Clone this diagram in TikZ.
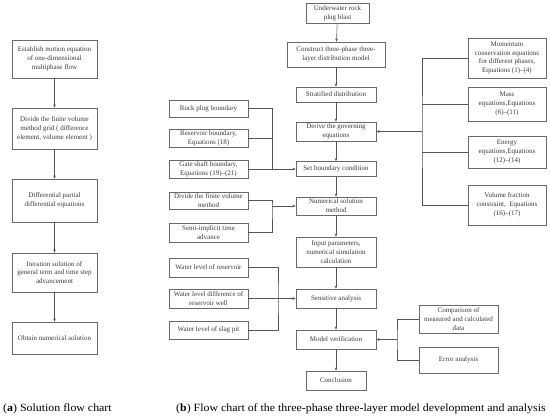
\documentclass[tikz,border=0pt]{standalone}
\usepackage{fontspec}
\setmainfont{Liberation Serif}
\newfontfamily\capfont[FakeStretch=1.08]{Liberation Serif}
\usetikzlibrary{arrows.meta}
\definecolor{boxline}{HTML}{6A6A6A}
\definecolor{conn}{HTML}{555555}
\definecolor{txt}{HTML}{3A3A3A}
\hyphenpenalty=10000
\exhyphenpenalty=10000
\tikzset{
  box/.style={draw=boxline, line width=0.6pt, align=center, inner sep=1pt,
    font=\fontsize{7}{8.8}\selectfont, text=txt},
  conline/.style={draw=conn, line width=0.5pt},
  arr/.style={conline, -{Stealth[length=3.2pt,width=2.6pt]}},
  captxt/.style={anchor=base west, inner sep=0pt, font=\capfont\fontsize{11}{13}\selectfont, text=black}
}
\begin{document}
\begin{tikzpicture}[x=1pt,y=-1pt]
\useasboundingbox (0,0) rectangle (550,419);
% left column
\node[box, minimum width=85, minimum height=38] (l1) at (54.5,59) {Establish motion equation\\of one-dimensional\\multiphase flow};
\node[box, minimum width=85, minimum height=41] (l2) at (54.5,128.5) {Divide the finite volume\\method grid ( difference\\element, volume element )};
\node[box, minimum width=85, minimum height=43] (l3) at (54.5,200.5) {Differential partial\\differential equations};
\node[box, minimum width=85, minimum height=39] (l4) at (54.5,272.5) {Iteration solution of\\general term and time step\\advancement};
\node[box, minimum width=85, minimum height=32] (l5) at (54.5,338) {Obtain numerical solution};
\draw[arr] (l1) -- (l2);
\draw[arr] (l2) -- (l3);
\draw[arr] (l3) -- (l4);
\draw[arr] (l4) -- (l5);
% main column
\node[box, minimum width=63, minimum height=20] (m1) at (337.5,13) {Underwater rock\\plug blast};
\node[box, minimum width=98, minimum height=25] (m2) at (336,54.5) {Construct three-phase three-\\layer distribution model};
\node[box, minimum width=80, minimum height=15] (m3) at (336,94.5) {Stratified distribution};
\node[box, minimum width=80, minimum height=19] (m4) at (336,131.5) {Derive the governing\\equations};
\node[box, minimum width=80, minimum height=15] (m5) at (336,169) {Set boundary condition};
\node[box, minimum width=80, minimum height=18] (m6) at (336,206) {Numerical solution\\method};
\node[box, minimum width=80, minimum height=30] (m7) at (336,252) {Input parameters,\\numerical simulation\\calculation};
\node[box, minimum width=80, minimum height=19] (m8) at (336,298.5) {Sensitive analysis};
\node[box, minimum width=80, minimum height=19] (m9) at (336,339.5) {Model verification};
\node[box, minimum width=60, minimum height=19] (m10) at (336,380.5) {Conclusion};
\draw[arr] (m1) -- (m2);
\draw[arr] (m2) -- (m3);
\draw[arr] (m3) -- (m4);
\draw[arr] (m4) -- (m5);
\draw[arr] (m5) -- (m6);
\draw[arr] (m6) -- (m7);
\draw[arr] (m7) -- (m8);
\draw[arr] (m8) -- (m9);
\draw[arr] (m9) -- (m10);
% middle-left boxes
\node[box, minimum width=79, minimum height=17] (b1) at (208.5,108.5) {Rock plug boundary};
\node[box, minimum width=79, minimum height=18] (b2) at (208.5,138) {Reservoir boundary,\\Equations (18)};
\node[box, minimum width=79, minimum height=18] (b3) at (208.5,169) {Gate shaft boundary,\\Equations (19)–(21)};
\node[box, minimum width=79, minimum height=17] (b4) at (208.5,200.5) {Divide the finite volume\\method};
\node[box, minimum width=79, minimum height=19] (b5) at (208.5,232.5) {Semi-implicit time\\advance};
\node[box, minimum width=79, minimum height=19] (b6) at (208.5,267.5) {Water level of reservoir};
\node[box, minimum width=79, minimum height=19] (b7) at (208.5,298.5) {Water level difference of\\reservoir well};
\node[box, minimum width=79, minimum height=18] (b8) at (208.5,330) {Water level of slag pit};
\coordinate (k1) at (272,169);
\coordinate (k2) at (272,206);
\coordinate (k3) at (278,298.5);
\draw[conline] (b1.east) -| (k1);
\draw[conline] (b2.east) -- (b2.east -| k1);
\draw[arr] (b3.east) -- (m5.west);
\draw[conline] (b4.east) -| (k2) |- (b5.east);
\draw[arr] (k2) -- (m6.west);
\draw[conline] (b6.east) -| (k3) |- (b8.east);
\draw[arr] (b7.east) -- (m8.west);
% right boxes
\node[box, minimum width=78, minimum height=40] (r1) at (507,58) {Momentum\\conservation equations\\for different phases,\\Equations (1)–(4)};
\node[box, minimum width=78, minimum height=34] (r2) at (507,104) {Mass\\equations,Equations\\(6)–(11)};
\node[box, minimum width=78, minimum height=32] (r3) at (507,152) {Energy\\equations,Equations\\(12)–(14)};
\node[box, minimum width=78, minimum height=40] (r4) at (507,205) {Volume fraction\\constraint,\ \ Equations\\(16)–(17)};
\coordinate (k4) at (422,131.5);
\draw[conline] (r1.west) -| (k4) |- (r4.west);
\draw[conline] (r2.west) -- (r2.west -| k4);
\draw[conline] (r3.west) -- (r3.west -| k4);
\draw[arr] (k4) -- (m4.east);
% bottom right boxes
\node[box, minimum width=79, minimum height=28] (c1) at (458.5,319) {Comparison of\\measured and calculated\\data};
\node[box, minimum width=79, minimum height=26] (c2) at (458.5,360) {Error analysis};
\coordinate (k5) at (397,339.5);
\draw[conline] (c1.west) -| (k5) |- (c2.west);
\draw[arr] (k5) -- (m9.east);
% captions
\node[captxt] (capa) at (3,412) {(\textbf{a}) Solution flow chart};
\node[captxt] (capb) at (176,412) {(\textbf{b}) Flow chart of the three-phase three-layer model development and analysis};
\end{tikzpicture}
\end{document}
